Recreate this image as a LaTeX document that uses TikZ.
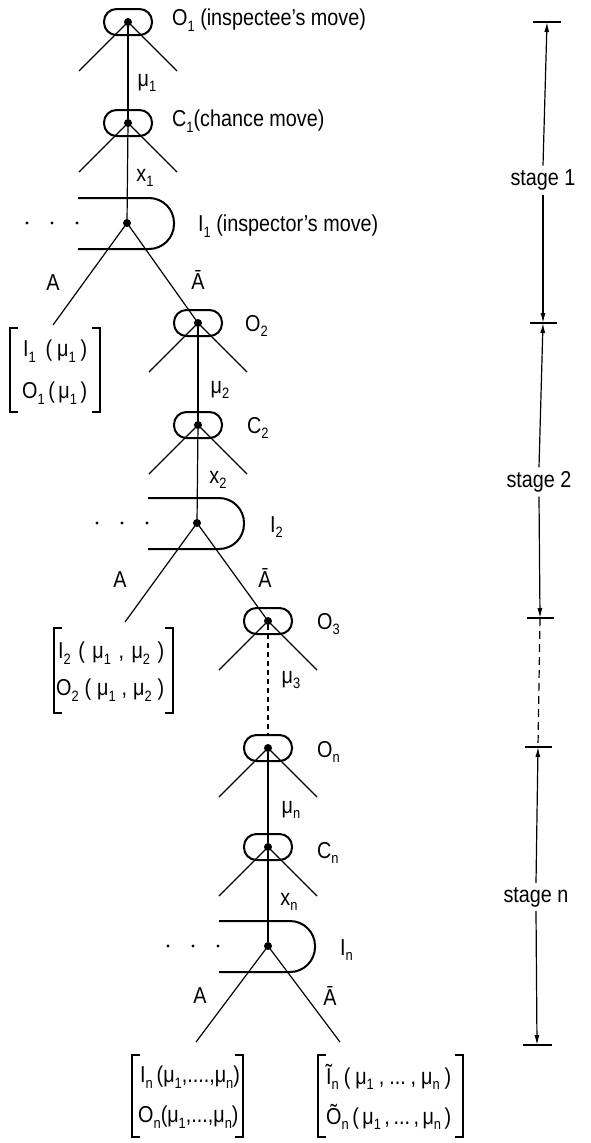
\documentclass[tikz,border=0pt]{standalone}
\usepackage{fontspec}
\setmainfont[FakeStretch=0.86]{Liberation Sans}
\usetikzlibrary{arrows.meta,calc}
\newcommand\lo[1]{\raisebox{-0.45ex}{\fontsize{15}{15}\selectfont #1}}
\newcommand\g{\hspace{0pt plus 1fil}}
\begin{document}
\begin{tikzpicture}[x=1pt,y=-1pt,
  every node/.style={font=\fontsize{23}{26}\selectfont, inner sep=0pt},
  tree/.style={line width=1.2pt},
  oval/.style={draw, line width=2pt, minimum width=48pt, minimum height=26pt, rounded corners=12.5pt},
  dotn/.style={circle, fill, minimum size=8pt, inner sep=0pt},
  lab/.style={anchor=west},
  row/.style={anchor=west},
  ishape/.style={line width=2pt, rounded corners=25pt},
  brk/.style={line width=2pt},
  sc/.style={line width=1.2pt},
  tip/.style={-{Latex[length=10pt,width=5pt]}},
  tick/.style={line width=1.8pt},
  stg/.style={inner sep=4pt},
]
\useasboundingbox (0,0) rectangle (590,1143);

% chance / inspectee nodes
\foreach \n/\x/\y in {O1/128/22, C1/128/123, O2/198/323, C2/198/425, O3/268/621, On/268/748, Cn/268/847} {
  \node[oval] (\n b) at (\x,\y) {};
  \node[dotn] (\n) at (\x,\y) {};
  \coordinate (\n L) at (\x-49,\y+49);
  \coordinate (\n R) at (\x+49,\y+49);
  \draw[tree] (\n.center) -- (\n L);
  \draw[tree] (\n.center) -- (\n R);
}
% inspector nodes
\foreach \n/\x/\y in {I1/127/223, I2/197/523, In/268/946} {
  \node[dotn] (\n) at (\x,\y) {};
  \draw[ishape] (\x-49,\y-25) -- (\x+47,\y-25) -- (\x+47,\y+26) -- (\x-49,\y+26);
  \fill (\x-50,\y) circle (1.6) (\x-75,\y) circle (1.6) (\x-100,\y) circle (1.6);
}
\coordinate (I1L) at (53,325);
\coordinate (I2L) at (125,622);
\coordinate (InL) at (196,1042);
\coordinate (InR) at (340,1042);

% connectors
\draw[tree] (O1) -- (C1);
\draw[tree] (C1) -- (I1);
\draw[tree] (I1.center) -- (I1L);
\draw[tree] (I1.center) -- (O2.center);
\draw[tree] (O2) -- (C2);
\draw[tree] (C2) -- (I2);
\draw[tree] (I2.center) -- (I2L);
\draw[tree] (I2.center) -- (O3.center);
\draw[tree, dash pattern=on 5pt off 4pt] (O3) -- (Onb.north);
\draw[tree] (On) -- (Cn);
\draw[tree] (Cn) -- (In);
\draw[tree] (In.center) -- (InL);
\draw[tree] (In.center) -- (InR);

% move labels
\node[lab] (tO1) at (172,20) {O\lo{1} (inspectee's move)};
\node[lab] (tC1) at (172,121) {C\lo{1}(chance move)};
\node[lab] (tI1) at (198,226) {I\lo{1} (inspector's move)};
\node[lab] (tO2) at (245,326) {O\lo{2}};
\node[lab] (tC2) at (247,428) {C\lo{2}};
\node[lab] (tI2) at (270,527) {I\lo{2}};
\node[lab] (tO3) at (317,624) {O\lo{3}};
\node[lab] (tOn) at (317,752) {O\lo{n}};
\node[lab] (tCn) at (317,853) {C\lo{n}};
\node[lab] (tIn) at (340,950) {I\lo{n}};

% edge labels
\node (m1) at (147,83) {μ\lo{1}};
\node (x1) at (145,178) {x\lo{1}};
\node (m2) at (220,390) {μ\lo{2}};
\node (x2) at (218,480) {x\lo{2}};
\node (m3) at (291,680) {μ\lo{3}};
\node (mn) at (291,810) {μ\lo{n}};
\node (xn) at (289,902) {x\lo{n}};
\node (a1) at (53,283) {A};
\node (b1) at (198,280) {Ā};
\node (a2) at (120,580) {A};
\node (b2) at (265,578) {Ā};
\node (an) at (200,996) {A};
\node (bn) at (330,996) {Ā};

% payoff brackets
\node[row] (p1a) at (23,351) {\makebox[64pt][s]{I\lo{1}\g\g(\g μ\lo{1}\g)}};
\node[row] (p1b) at (22,393) {\makebox[65pt][s]{O\lo{1}\g(\g μ\lo{1}\g)}};
\draw[brk] (18,328) -- (10,328) -- (10,412) -- (18,412);
\draw[brk] (92,328) -- (100,328) -- (100,412) -- (92,412);

\node[row] (p2a) at (58,653) {\makebox[106pt][s]{I\lo{2}\g(\g μ\lo{1}\g,\g μ\lo{2}\g)}};
\node[row] (p2b) at (56,690) {\makebox[108pt][s]{O\lo{2}\g(\g μ\lo{1}\g,\g μ\lo{2}\g)}};
\draw[brk] (62,628) -- (54,628) -- (54,713) -- (62,713);
\draw[brk] (165,628) -- (173,628) -- (173,713) -- (165,713);

\node[row] (p3a) at (140,1077) {I\lo{n}\,(μ\lo{1},....,μ\lo{n})};
\node[row] (p3b) at (138,1117) {O\lo{n}(μ\lo{1},...,μ\lo{n})};
\draw[brk] (140,1055) -- (132,1055) -- (132,1137) -- (140,1137);
\draw[brk] (235,1055) -- (243,1055) -- (243,1137) -- (235,1137);

\node[row] (p4a) at (326,1077) {\makebox[125pt][s]{Ĩ\lo{n}\g(\g μ\lo{1}\g,\g...\g,\g μ\lo{n}\g)}};
\node[row] (p4b) at (326,1117) {\makebox[125pt][s]{Õ\lo{n}\g(\g μ\lo{1}\g,\g...\g,\g μ\lo{n}\g)}};
\draw[brk] (326,1055) -- (318,1055) -- (318,1137) -- (326,1137);
\draw[brk] (455,1055) -- (463,1055) -- (463,1137) -- (455,1137);

% stage scale
\coordinate (t0) at (547,22);
\coordinate (t1) at (543,323);
\coordinate (t2) at (540,618);
\coordinate (t3) at (538,747);
\coordinate (t4) at (537,1045);
\draw[tick] (533,22) -- (561,22);
\draw[tick] (530,323) -- (557,323);
\draw[tick] (527,618) -- (554,618);
\draw[tick] (525,747) -- (552,747);
\draw[tick] (523,1045) -- (552,1045);
\node[stg] (s1) at (543,180) {stage 1};
\node[stg] (s2) at (539,482) {stage 2};
\node[stg] (sn) at (536,897) {stage n};
\draw[sc,tip] (s1.north) -- (t0);
\draw[sc,tip] (s1.south) -- (t1);
\draw[sc,tip] (s2.north) -- (t1);
\draw[sc,tip] (s2.south) -- (t2);
\draw[sc, dash pattern=on 8pt off 5pt] (t2) -- (t3);
\draw[sc,tip] (sn.north) -- (t3);
\draw[sc,tip] (sn.south) -- (t4);
\end{tikzpicture}
\end{document}
